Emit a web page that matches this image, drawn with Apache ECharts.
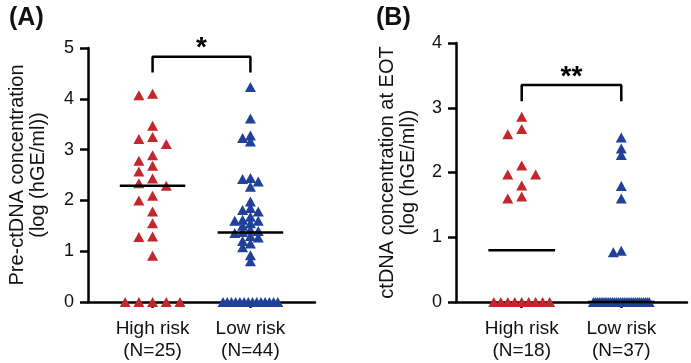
<!DOCTYPE html>
<html>
<head>
<meta charset="utf-8">
<script src="https://cdn.jsdelivr.net/npm/echarts@6/dist/echarts.min.js"></script>
<style>
html,body{margin:0;padding:0;background:#fff;}
#chart{width:691px;height:363px;}
</style>
</head>
<body>
<div id="chart"></div>
<script>
// ---- data (log hGE/ml) ----
const categories = ['High risk', 'Low risk'];
const yTicksA = [0, 1, 2, 3, 4, 5];
const yTicksB = [0, 1, 2, 3, 4];
const preHigh = [4.10, 4.07, 3.47, 3.25, 3.21, 3.11, 2.89, 2.78, 2.68, 2.57, 2.43, 2.34, 2.29,
  2.09, 2.00, 1.78, 1.55, 1.29, 1.28, 0.91, 0, 0, 0, 0, 0];
const preLow = [4.23, 3.61, 3.28, 3.23, 3.16, 2.44, 2.42, 2.37, 2.27, 1.98, 1.85, 1.81, 1.78,
  1.68, 1.62, 1.60, 1.60, 1.55, 1.50, 1.42, 1.40, 1.38, 1.36, 1.30, 1.27, 1.20, 1.15, 1.08,
  0.92, 0.80, 0, 0, 0, 0, 0, 0, 0, 0, 0, 0, 0, 0, 0, 0];
const eotHigh = [2.86, 2.67, 2.59, 2.11, 1.97, 1.97, 1.80, 1.63, 1.60, 0, 0, 0, 0, 0, 0, 0, 0, 0];
const eotLow = [2.54, 2.37, 2.27, 1.79, 1.60, 0.79, 0.77, 0, 0, 0, 0, 0, 0, 0, 0, 0, 0, 0, 0, 0,
  0, 0, 0, 0, 0, 0, 0, 0, 0, 0, 0, 0, 0, 0, 0, 0, 0];
const sigA = '*';
const sigB = '**';

// ---- styling / layout ----
const RED = '#c1272d', BLUE = '#21409a', INK = '#111';
const FONT = '"Liberation Sans", Arial, Helvetica, sans-serif';
const gridA = {left: 88, top: 48, width: 227, height: 254};
const gridB = {left: 456, top: 43, width: 231, height: 259};
const xMin = 0.34, xMax = 2.66;
const loose = {slot: 0.07, dx: 10, dy: 9.5};
const dense = {slot: 0.04, dx: 6, dy: 6};

function median(a) {
  const s = a.slice().sort((p, q) => p - q);
  const n = s.length;
  return n % 2 ? s[(n - 1) / 2] : (s[n / 2 - 1] + s[n / 2]) / 2;
}

function swarm(values, center, grid, yMax, o) {
  const xPx = grid.width / (xMax - xMin);
  const yPx = grid.height / yMax;
  const nz = values.filter(v => v !== 0).sort((a, b) => b - a);
  const zeros = values.filter(v => v === 0);
  const placed = [];
  const cand = [0];
  for (let k = 1; k < 14; k++) { cand.push(-k, k); }
  nz.forEach(v => {
    for (const k of cand) {
      const x = center + k * o.slot;
      const ok = placed.every(p => Math.abs((p[0] - x) * xPx) >= o.dx || Math.abs((p[1] - v) * yPx) >= o.dy);
      if (ok) { placed.push([x, v]); return; }
    }
    placed.push([center, v]);
  });
  const n = zeros.length;
  const sp = n > 1 ? Math.min(0.14, 0.56 / (n - 1)) : 0;
  zeros.forEach((v, i) => placed.push([center + (i - (n - 1) / 2) * sp, v]));
  return placed;
}

function xAxisCfg(gi, groups) {
  return {
    type: 'value', gridIndex: gi, min: xMin, max: xMax,
    axisLine: {show: true, onZero: false, lineStyle: {color: '#000', width: 2.5}},
    splitLine: {show: false},
    axisTick: {show: true, customValues: [1, 2], length: 6, lineStyle: {color: '#000', width: 2.5}},
    axisLabel: {
      show: true, customValues: [1, 2], margin: 16,
      formatter: v => categories[Math.round(v) - 1] + '\n(N=' + groups[Math.round(v) - 1].length + ')',
      fontSize: 19, lineHeight: 22, color: INK, fontFamily: FONT
    }
  };
}
function yAxisCfg(gi, ticks, name, gap) {
  return {
    type: 'value', gridIndex: gi, min: ticks[0], max: ticks[ticks.length - 1], interval: 1,
    axisLine: {show: true, lineStyle: {color: '#000', width: 2.5}},
    axisTick: {show: true, length: 8, lineStyle: {color: '#000', width: 2.5}},
    splitLine: {show: false},
    axisLabel: {fontSize: 18, color: INK, margin: 14, fontFamily: FONT},
    name: name, nameLocation: 'middle', nameRotate: 90, nameGap: gap,
    nameTextStyle: {fontSize: 20, lineHeight: 21, color: INK, fontFamily: FONT}
  };
}
function scatter(gi, data, color) {
  return {
    type: 'scatter', xAxisIndex: gi, yAxisIndex: gi, data: data, clip: false,
    symbol: 'triangle', symbolSize: [11, 10], itemStyle: {color: color, opacity: 1},
    z: 3, silent: true, animation: false
  };
}
function seg(gi, pts, z) {
  return {
    type: 'line', xAxisIndex: gi, yAxisIndex: gi, data: pts, clip: false,
    symbol: 'none', lineStyle: {color: '#000', width: 2.5}, z: z || 5, silent: true, animation: false
  };
}
function medLine(gi, arr, c) {
  const m = median(arr);
  return seg(gi, [[c - 0.335, m], [c + 0.335, m]]);
}

const bracketA = [4.52, 4.83];
const bracketB = [3.10, 3.35];

const chart = echarts.init(document.getElementById('chart'), null, {renderer: 'canvas'});
chart.setOption({
  animation: false,
  grid: [gridA, gridB],
  xAxis: [xAxisCfg(0, [preHigh, preLow]), xAxisCfg(1, [eotHigh, eotLow])],
  yAxis: [
    yAxisCfg(0, yTicksA, 'Pre-ctDNA concentration\n(log (hGE/ml))', 39),
    yAxisCfg(1, yTicksB, 'ctDNA concentration at EOT\n(log (hGE/ml))', 37)
  ],
  series: [
    scatter(0, swarm(preHigh, 1, gridA, 5, loose), RED),
    scatter(0, swarm(preLow, 2, gridA, 5, dense), BLUE),
    medLine(0, preHigh, 1), medLine(0, preLow, 2),
    seg(0, [[1, bracketA[0]], [1, bracketA[1]], [2, bracketA[1]], [2, bracketA[0]]]),
    scatter(1, swarm(eotHigh, 1, gridB, 4, loose), RED),
    scatter(1, swarm(eotLow, 2, gridB, 4, dense), BLUE),
    medLine(1, eotHigh, 1), medLine(1, eotLow, 2),
    seg(1, [[1, bracketB[0]], [1, bracketB[1]], [2, bracketB[1]], [2, bracketB[0]]])
  ]
});

const pA = chart.convertToPixel({xAxisIndex: 0, yAxisIndex: 0}, [1.5, bracketA[1]]);
const pB = chart.convertToPixel({xAxisIndex: 1, yAxisIndex: 1}, [1.5, bracketB[1]]);
chart.setOption({
  graphic: [
    {type: 'text', left: 9, top: 6, style: {text: '(A)', font: 'bold 25px ' + FONT, fill: INK}},
    {type: 'text', left: 376, top: 6, style: {text: '(B)', font: 'bold 25px ' + FONT, fill: INK}},
    {type: 'text', x: pA[0], y: pA[1] - 8, style: {text: sigA, font: 'bold 28px ' + FONT, fill: '#000', align: 'center', verticalAlign: 'middle'}},
    {type: 'text', x: pB[0], y: pB[1] - 8, style: {text: sigB, font: 'bold 28px ' + FONT, fill: '#000', align: 'center', verticalAlign: 'middle'}}
  ]
});
</script>
</body>
</html>
